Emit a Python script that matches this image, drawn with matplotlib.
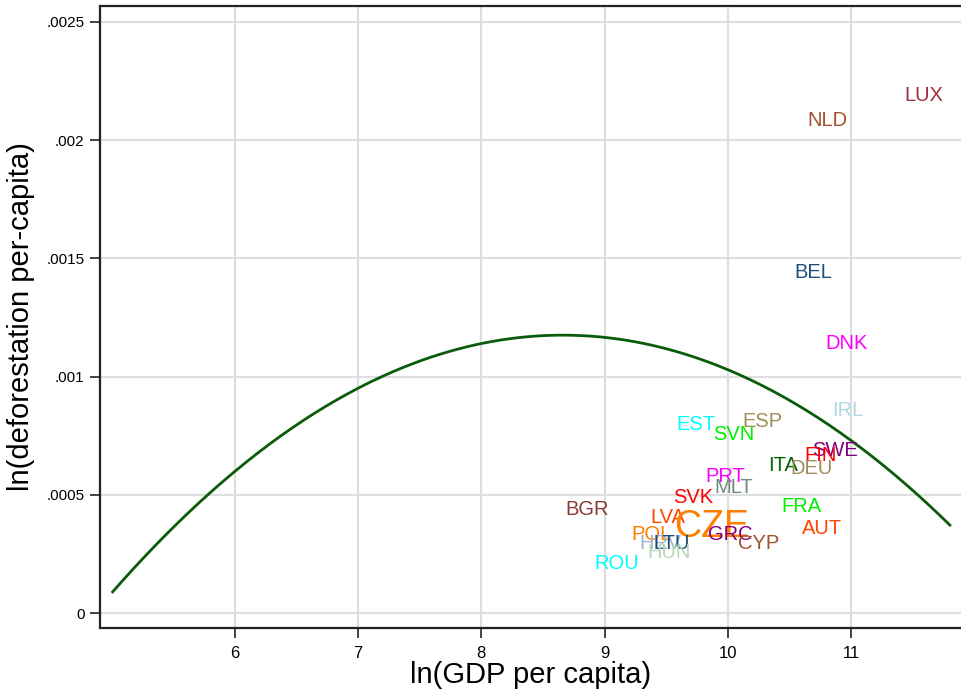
import numpy as np
import matplotlib
matplotlib.use("Agg")
import matplotlib.pyplot as plt

# country labels (label centres)
countries = ["LUX", "NLD", "BEL", "DNK", "IRL", "SWE", "FIN", "ITA", "DEU", "ESP",
             "EST", "SVN", "PRT", "MLT", "SVK", "BGR", "LVA", "CZE", "FRA", "AUT",
             "POL", "GRC", "CYP", "HRV", "LTU", "HUN", "ROU"]
ln_gdp = [11.59, 10.81, 10.69, 10.96, 10.97, 10.87, 10.75, 10.45, 10.68, 10.28,
          9.74, 10.05, 9.98, 10.05, 9.72, 8.86, 9.51, 9.87, 10.60, 10.76,
          9.38, 10.02, 10.25, 9.45, 9.54, 9.52, 9.10]
ln_defor = [0.002190, 0.002084, 0.001442, 0.001141, 0.000858, 0.000689, 0.000668,
            0.000622, 0.000613, 0.000808, 0.000799, 0.000757, 0.000579, 0.000533,
            0.000490, 0.000436, 0.000402, 0.000364, 0.000452, 0.000359, 0.000330,
            0.000330, 0.000296, 0.000296, 0.000292, 0.000254, 0.000211]
colors = ["#9b3040", "#a0522d", "#1f4e79", "#ff00ff", "#add8e6", "#800080", "#ff0000",
          "#006400", "#a08c5a", "#a08c5a", "#00ffff", "#00ee00", "#ff00ff", "#708a80",
          "#ff0000", "#8b3a3a", "#ff4500", "#ff7f00", "#00ee00", "#ff4500", "#ff7f00",
          "#800080", "#a0522d", "#9fb6cd", "#1f4e79", "#b4d8b4", "#00ffff"]
big = ["CZE"]

# quadratic fit shown in the chart: y = a*x^2 + b*x + c
fit_coef = [-8.15e-5, 1.4116e-3, -4.937e-3]
fit_range = (5.01, 11.8)

xticks = [6, 7, 8, 9, 10, 11]
yticks = [0, 0.0005, 0.001, 0.0015, 0.002, 0.0025]
ytick_labels = ["0", ".0005", ".001", ".0015", ".002", ".0025"]

fig = plt.figure(figsize=(9.61, 6.97), dpi=100)
ax = fig.add_axes([0.104, 0.099, 0.896, 0.8925])

xs = np.linspace(*fit_range, 300)
ax.plot(xs, np.polyval(fit_coef, xs), color="#0a5c0a", lw=2.0, zorder=3)

for name, x, y, c in zip(countries, ln_gdp, ln_defor, colors):
    ax.text(x, y, name, color=c, ha="center", va="center",
            fontsize=27 if name in big else 14.5, family="Liberation Sans", zorder=4)

ax.set_xlim(4.907, 11.89)
ax.set_ylim(-0.0000634, 0.002568)
ax.set_xticks(xticks)
ax.set_xticklabels([str(t) for t in xticks], family="Liberation Sans", fontsize=12)
ax.set_yticks(yticks)
ax.set_yticklabels(ytick_labels, family="Liberation Sans", fontsize=11)
ax.grid(True, color="#dedede", lw=1.5)
ax.set_axisbelow(True)
ax.tick_params(direction="out", length=7, width=1.2, color="#222222")
ax.tick_params(axis="x", pad=6)
ax.tick_params(axis="y", pad=4)

for side in ["left", "bottom", "top"]:
    ax.spines[side].set_linewidth(1.6)
    ax.spines[side].set_color("#222222")
ax.spines["right"].set_visible(False)

ax.set_xlabel("ln(GDP per capita)", family="Liberation Sans", fontsize=21, labelpad=0)
ax.set_ylabel("ln(deforestation per-capita)", family="Liberation Sans", fontsize=21, labelpad=8)

fig.savefig("out.png", dpi=100)
